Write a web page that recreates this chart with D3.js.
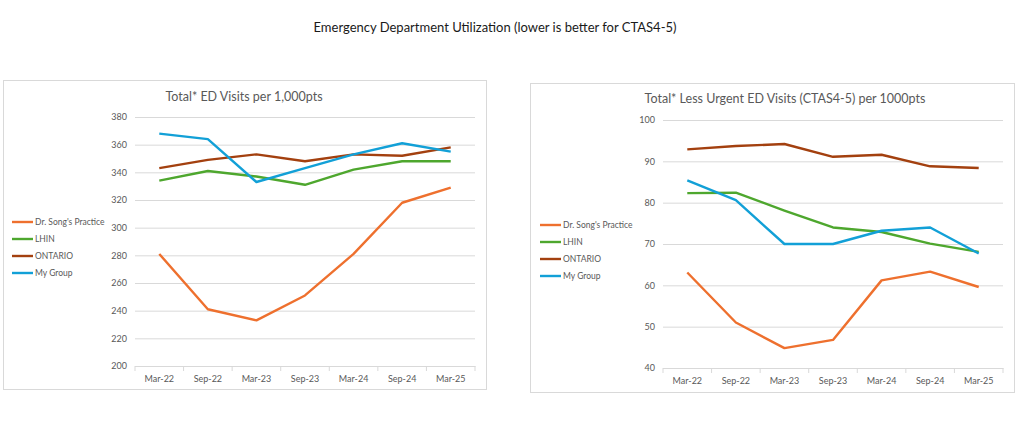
<!DOCTYPE html>
<html>
<head>
<meta charset="utf-8">
<script src="https://cdn.jsdelivr.net/npm/d3@7"></script>
<style>
  body { margin: 0; background: #fff; }
  text { font-family: Lato, "Noto Sans", sans-serif; }
</style>
</head>
<body>
<script>
// Data
var periods = ["Mar-22", "Sep-22", "Mar-23", "Sep-23", "Mar-24", "Sep-24", "Mar-25"];
var seriesNames = ["Dr. Song's Practice", "LHIN", "ONTARIO", "My Group"];
var seriesColors = ["#EE702E", "#4EA72E", "#A3400F", "#12A0D7"];

// left chart: total ED visits
var totalSong    = [281, 241, 233, 251, 281, 318, 329];
var totalLhin    = [334, 341, 337, 331, 342, 348, 348];
var totalOntario = [343, 349, 353, 348, 353, 352, 358];
var totalGroup   = [368, 364, 333, 343, 353, 361, 355];
var totalTicks   = [200, 220, 240, 260, 280, 300, 320, 340, 360, 380];

// right chart: less urgent ED visits
var lessSong    = [63.1, 51.0, 44.8, 46.8, 61.2, 63.3, 59.6];
var lessLhin    = [82.3, 82.4, 78.1, 74.0, 72.9, 70.1, 68.1];
var lessOntario = [92.9, 93.7, 94.2, 91.1, 91.6, 88.8, 88.4];
var lessGroup   = [85.4, 80.6, 70.0, 70.0, 73.2, 74.0, 67.7];
var lessTicks   = [40, 50, 60, 70, 80, 90, 100];

var svg = d3.select("body").append("svg")
    .attr("width", 1024).attr("height", 423);

svg.append("text")
    .attr("x", 495).attr("y", 32)
    .attr("text-anchor", "middle")
    .style("font-size", "13px")
    .style("fill", "#1a1a1a")
    .text("Emergency Department Utilization (lower is better for CTAS4-5)");

// draws one chart panel
function drawChart(opt) {
    var g = svg.append("g");

    g.append("rect")
        .attr("x", opt.box[0] + 0.5).attr("y", opt.box[1] + 0.5)
        .attr("width", opt.box[2]).attr("height", opt.box[3])
        .attr("fill", "#fff").attr("stroke", "#d9d9d9");

    g.append("text")
        .attr("x", opt.titleX).attr("y", opt.titleY)
        .attr("text-anchor", "middle")
        .style("font-size", "12.5px")
        .style("fill", "#595959")
        .text(opt.title);

    var x = d3.scaleBand().domain(periods).range([opt.left, opt.right]);
    var y = d3.scaleLinear().domain([opt.ticks[0], opt.ticks[opt.ticks.length - 1]])
        .range([opt.bottom, opt.top]);

    // gridlines
    var yAxis = g.append("g")
        .attr("transform", "translate(" + opt.left + ",0)")
        .call(d3.axisLeft(y).tickValues(opt.ticks)
            .tickSize(-(opt.right - opt.left)).tickPadding(8));
    yAxis.select(".domain").remove();
    yAxis.selectAll("line").attr("stroke", "#d9d9d9");
    yAxis.selectAll("text").style("font-size", "9px").style("fill", "#595959")
        .style("font-family", "Lato, 'Noto Sans', sans-serif");

    // bottom axis with ticks on band edges
    var xAxis = g.append("g")
        .attr("transform", "translate(0," + opt.bottom + ")")
        .call(d3.axisBottom(x).tickSize(0).tickPadding(10));
    xAxis.select(".domain").attr("stroke", "#d9d9d9");
    xAxis.selectAll("text").style("font-size", "9px").style("fill", "#595959")
        .style("font-family", "Lato, 'Noto Sans', sans-serif");
    var edges = periods.map(function (p) { return x(p); }).concat([opt.right]);
    xAxis.selectAll("line.edge").data(edges).enter().append("line")
        .attr("class", "edge")
        .attr("x1", function (d) { return d; }).attr("x2", function (d) { return d; })
        .attr("y1", 0).attr("y2", 5)
        .attr("stroke", "#d9d9d9");

    var line = d3.line()
        .x(function (d, i) { return x(periods[i]) + x.bandwidth() / 2; })
        .y(function (d) { return y(d); });

    opt.series.forEach(function (vals, k) {
        g.append("path")
            .datum(vals)
            .attr("d", line)
            .attr("fill", "none")
            .attr("stroke", seriesColors[k])
            .attr("stroke-width", 2.4)
            .attr("stroke-linejoin", "round");
    });

    // legend
    var leg = g.selectAll("g.leg").data(seriesNames).enter().append("g")
        .attr("class", "leg")
        .attr("transform", function (d, i) {
            return "translate(" + opt.legX + "," + (opt.legY + i * 17) + ")";
        });
    leg.append("line")
        .attr("x1", 0).attr("x2", 21)
        .attr("stroke", function (d, i) { return seriesColors[i]; })
        .attr("stroke-width", 2.4);
    leg.append("text")
        .attr("x", 23).attr("dy", "0.35em")
        .style("font-size", "8.5px")
        .style("fill", "#595959")
        .text(function (d) { return d; });
}

drawChart({
    box: [3, 80, 483, 309],
    title: "Total* ED Visits per 1,000pts",
    titleX: 244, titleY: 101,
    left: 135, right: 475, top: 117, bottom: 366,
    ticks: totalTicks,
    series: [totalSong, totalLhin, totalOntario, totalGroup],
    legX: 12, legY: 222
});

drawChart({
    box: [530, 83, 484, 309],
    title: "Total* Less Urgent ED Visits (CTAS4-5) per 1000pts",
    titleX: 785, titleY: 103,
    left: 663, right: 1003, top: 120, bottom: 368,
    ticks: lessTicks,
    series: [lessSong, lessLhin, lessOntario, lessGroup],
    legX: 540, legY: 225
});
</script>
</body>
</html>
